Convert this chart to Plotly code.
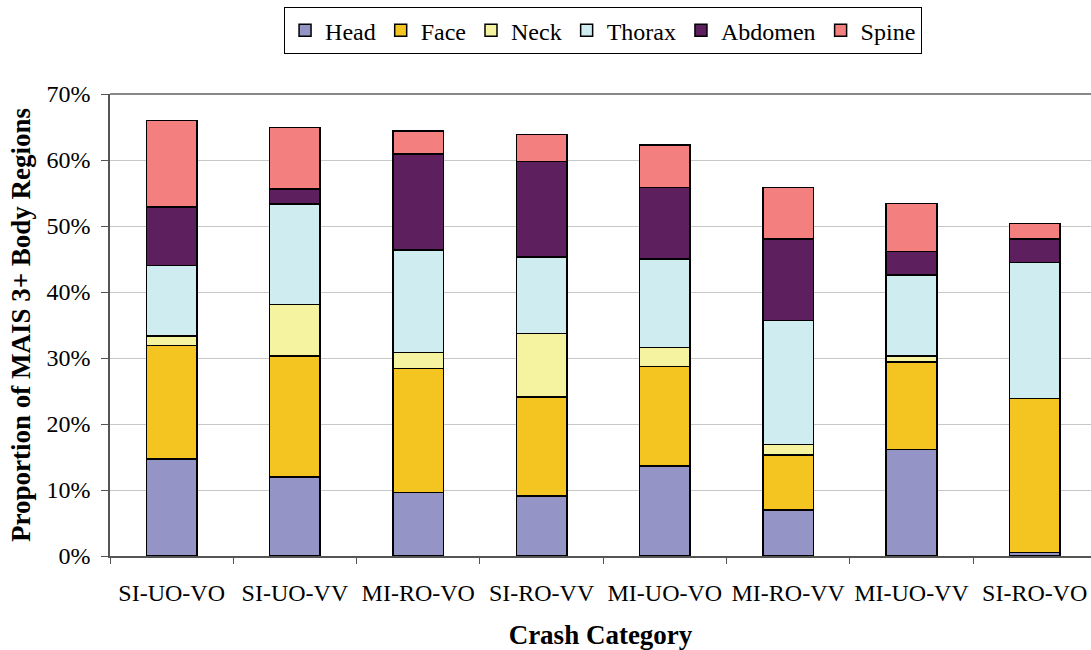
import plotly.graph_objects as go

categories = ["SI-UO-VO", "SI-UO-VV", "MI-RO-VO", "SI-RO-VV", "MI-UO-VO", "MI-RO-VV", "MI-UO-VV", "SI-RO-VO"]
head =    [14.7, 12.0,  9.6,  9.1, 13.6,  7.0, 16.1,  0.5]
face =    [17.2, 18.3, 18.8, 15.0, 15.1,  8.3, 13.3, 23.4]
neck =    [ 1.4,  7.8,  2.4,  9.6,  2.9,  1.6,  0.9,  0.0]
thorax =  [10.7, 15.2, 15.6, 11.6, 13.4, 18.8, 12.3, 20.6]
abdomen = [ 8.9,  2.3, 14.5, 14.5, 10.8, 12.3,  3.5,  3.5]
spine =   [13.1,  9.3,  3.5,  4.1,  6.5,  7.8,  7.3,  2.4]
y_ticks = [0, 10, 20, 30, 40, 50, 60, 70]
y_tick_labels = ["0%", "10%", "20%", "30%", "40%", "50%", "60%", "70%"]

series = [
    ("Head", head, "#9594C6"),
    ("Face", face, "#F4C520"),
    ("Neck", neck, "#F5F2A0"),
    ("Thorax", thorax, "#CFECF0"),
    ("Abdomen", abdomen, "#5E1F5E"),
    ("Spine", spine, "#F47F7F"),
]

fig = go.Figure()
for name, vals, color in series:
    fig.add_trace(go.Bar(
        name=name, x=categories, y=vals, width=0.41,
        marker=dict(color=color, line=dict(color="black", width=1.5)),
    ))

serif = "Liberation Serif"
fig.update_layout(
    barmode="stack",
    width=1091, height=650,
    margin=dict(l=110, r=0, t=94, b=94),
    paper_bgcolor="white", plot_bgcolor="white",
    font=dict(family=serif, color="black", size=24),
    showlegend=True,
    legend=dict(
        orientation="h", x=0.5026, xanchor="center", y=1.188, yanchor="top",
        bordercolor="black", borderwidth=1, font=dict(family=serif, size=24),
        traceorder="normal", itemwidth=30, tracegroupgap=0,
    ),
    xaxis=dict(
        range=[-0.5, 7.456], showline=True, linecolor="#555555", linewidth=1.5,
        ticks="outside", tickson="boundaries", ticklen=6, tickcolor="#555555",
        tickfont=dict(family=serif, size=24), ticklabelstandoff=14, tickangle=0,
        title=dict(text="<b>Crash Category</b>", font=dict(family=serif, size=27), standoff=21),
        showgrid=False, automargin=False,
    ),
    yaxis=dict(
        range=[0, 70], tickvals=y_ticks, ticktext=y_tick_labels,
        showline=True, linecolor="#555555", linewidth=1.5,
        ticks="outside", ticklen=7, tickcolor="#555555",
        tickfont=dict(family=serif, size=24), ticklabelstandoff=6,
        showgrid=True, gridcolor="#C8C8C8", gridwidth=1, zeroline=False,
        title=dict(text="<b>Proportion of MAIS 3+ Body Regions</b>", font=dict(family=serif, size=27), standoff=8),
        automargin=False,
    ),
    shapes=[dict(type="line", xref="paper", yref="paper", x0=0, x1=1, y0=1, y1=1,
                 line=dict(color="#888888", width=2))],
)

fig.write_html("out.html", config={"displayModeBar": False},
               post_script="document.body.style.margin='0';document.body.style.overflow='hidden';")
